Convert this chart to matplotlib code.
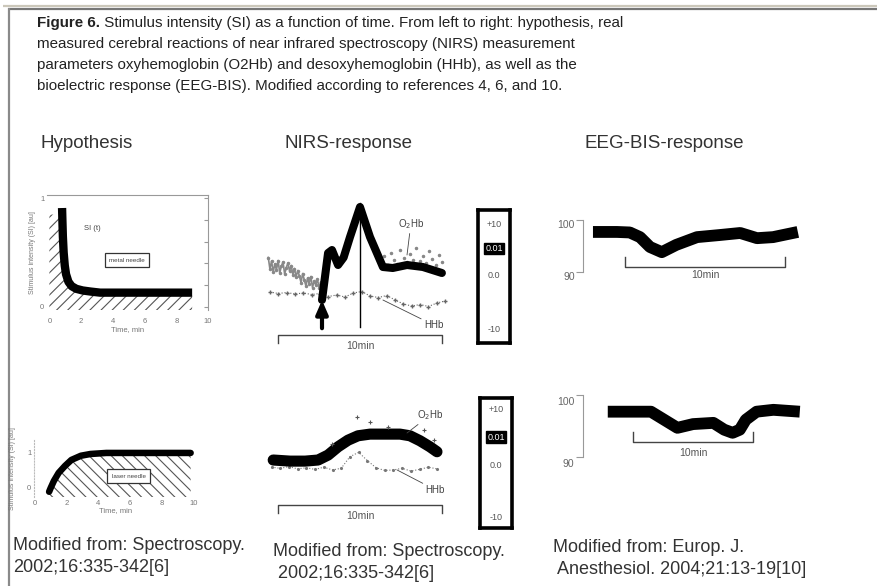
import numpy as np
import matplotlib.pyplot as plt
from matplotlib.transforms import ScaledTranslation

W, H = 877, 586

# ---- data ----
caption_bold = 'Figure 6.'
caption_lines = [
    ' Stimulus intensity (SI) as a function of time. From left to right: hypothesis, real',
    'measured cerebral reactions of near infrared spectroscopy (NIRS) measurement',
    'parameters oxyhemoglobin (O2Hb) and desoxyhemoglobin (HHb), as well as the',
    'bioelectric response (EEG-BIS). Modified according to references 4, 6, and 10.',
]
headers = ['Hypothesis', 'NIRS-response', 'EEG-BIS-response']
refs = [
    ['Modified from: Spectroscopy.', '2002;16:335-342[6]'],
    ['Modified from: Spectroscopy.', ' 2002;16:335-342[6]'],
    ['Modified from: Europ. J.', ' Anesthesiol. 2004;21:13-19[10]'],
]

# hypothesis, top row (SI drops after stimulus)
hyp_top_t = [0.8, 0.82, 0.85, 0.9, 0.97, 1.05, 1.2, 1.4, 1.7, 2.1, 2.6, 3.2, 5.0, 7.0, 9.0]
hyp_top_si = [0.91, 0.80, 0.65, 0.50, 0.38, 0.30, 0.23, 0.19, 0.165, 0.15, 0.14, 0.13, 0.13, 0.13, 0.13]
hatch_top_t = [0.0, 0.75] + hyp_top_t
hatch_top_si = [0.85, 0.85] + hyp_top_si
# hypothesis, bottom row (SI rises after stimulus)
hyp_bot_t = [0.9, 1.0, 1.2, 1.5, 1.9, 2.3, 2.9, 3.5, 4.5, 6.0, 8.0, 9.8]
hyp_bot_si = [-0.11, 0.0, 0.2, 0.43, 0.63, 0.8, 0.92, 0.97, 1.0, 1.0, 1.0, 1.0]
hyp_ticks = [0, 2, 4, 6, 8, 10]
hyp_labels = ['SI (t)', 'metal needle', 'laser needle']

# NIRS, top row
n1_pre_v = [3.5, 1.2, 2.8, 0.6, 2.2, 1.0, 2.9, 0.4, 1.8, 2.6, 0.2, 1.5, 2.4, 0.8, 1.9, 0.1, 1.3,
            -0.4, 0.9, -0.2, -1.5, 0.3, -1.0, -2.2, -0.6, -1.8, -0.3, -2.5, -1.2, -2.0, -0.8, -2.6, -1.4, -2.2]
n1_o2_t = [2.68, 3.05, 3.29, 3.66, 4.0, 4.39, 5.0, 5.61, 6.4, 7.0, 7.87, 8.84, 10.0]
n1_o2_v = [-5.0, 4.4, 5.0, 2.0, 3.5, 7.6, 13.6, 7.6, 1.6, 1.4, 2.0, 1.6, 0.4]
n1_post_v = [2.5, 3.8, 2.0, 4.5, 3.0, 2.2, 5.0, 3.4, 2.6, 4.2, 3.1, 5.5, 2.8, 3.9, 2.4, 4.8, 3.3, 2.1, 4.0, 2.7]
n1_hhb_v = [-3.4, -3.7, -3.5, -3.8, -3.6, -3.9, -3.7, -4.3, -4.0, -4.4, -3.6, -3.3, -4.2, -4.5, -4.1,
            -5.0, -5.8, -6.2, -5.9, -6.3, -5.6, -5.2]
n1_stim_t, n1_peak_t = 2.68, 5.0

# NIRS, bottom row
n2_o2_t = [-0.3, 0.73, 1.65, 2.44, 3.05, 3.66, 4.27, 4.88, 5.61, 6.52, 7.44, 8.05, 8.66, 9.27, 9.7]
n2_o2_v = [0.9, 0.7, 0.7, 0.9, 1.8, 3.3, 4.5, 5.3, 5.6, 5.6, 5.6, 5.3, 4.4, 3.3, 2.4]
n2_spike_t = [3.3, 4.8, 5.6, 6.7, 8.9, 9.5]
n2_spike_v = [3.8, 8.7, 7.8, 6.9, 6.4, 4.5]
n2_hhb_v = [-0.4, -0.6, -0.3, -0.7, -0.5, -0.8, -0.4, -0.9, -0.6, 1.5, 2.3, 0.8, -0.5, -1.0, -0.9,
            -0.6, -1.1, -0.8, -0.4, -0.7]

scale_labels = ['+10', '0.01', '0.0', '-10']

# EEG-BIS
bis1_t = [-2.0, -0.5, 0.3, 0.94, 1.56, 2.3, 3.2, 4.5, 5.9, 7.2, 8.25, 9.25, 10.8]
bis1_v = [97.7, 97.7, 97.6, 96.7, 94.8, 93.8, 95.2, 96.7, 97.1, 97.5, 96.5, 96.7, 97.7]
bis2_t = [-2.1, 1.5, 2.6, 3.7, 5.0, 6.7, 7.6, 8.3, 8.9, 9.4, 10.3, 11.7, 13.9]
bis2_v = [97.3, 97.3, 96.0, 94.7, 95.3, 95.5, 94.4, 93.9, 94.4, 96.0, 97.3, 97.6, 97.3]

# ---- drawing ----
plt.rcParams['font.family'] = ['Liberation Sans', 'DejaVu Sans']
plt.rcParams['hatch.linewidth'] = 0.8
fig = plt.figure(figsize=(W / 100, H / 100), dpi=100)


def px_axes(x0, y0, x1, y1):
    a = fig.add_axes([x0 / W, 1 - y1 / H, (x1 - x0) / W, (y1 - y0) / H])
    a.patch.set_alpha(0)
    return a


bg = fig.add_axes([0, 0, 1, 1])
bg.set_xlim(0, W)
bg.set_ylim(H, 0)
bg.axis('off')
bg.plot([3, W], [6, 6], color='#cbc7ba', lw=1.6, solid_capstyle='butt')
bg.plot([8, W], [8.6, 8.6], color='#767676', lw=1.6, solid_capstyle='butt')
bg.plot([8.6, 8.6], [8, H], color='#8a8a8a', lw=1.6, solid_capstyle='butt')

# caption
cap_fs = 10.9
t1 = bg.text(37, 23, caption_bold, fontsize=cap_fs, weight='bold', va='center', color='#222')
bg.annotate(caption_lines[0], xy=(1, 0.5), xycoords=t1, va='center', fontsize=cap_fs, color='#222')
for i, line in enumerate(caption_lines[1:]):
    bg.text(37, 44 + 21 * i, line, fontsize=cap_fs, va='center', color='#222')

for x, h in zip([40, 285, 585], headers):
    bg.text(x, 143, h, fontsize=13.5, va='center', color='#333')

for (x, y), lines in zip([(13, 545), (273, 551), (553, 548)], refs):
    bg.text(x, y, lines[0], fontsize=13, va='center', color='#333')
    bg.text(x, y + 22, lines[1], fontsize=13, va='center', color='#333')

grey = '#777777'

# hypothesis top
ax = px_axes(47, 195, 208, 310)
ax.fill_between(hatch_top_t, -0.03, hatch_top_si, facecolor='none', edgecolor='#555', hatch='///', lw=0)
ax.plot(hyp_top_t, hyp_top_si, color='black', lw=6, solid_capstyle='butt', solid_joinstyle='round')
ax.set_xlim(-0.15, 10)
ax.set_ylim(-0.03, 1.03)
ax.set_xticks(hyp_ticks)
ax.set_yticks([0, 0.2, 0.4, 0.6, 0.8, 1.0])
ax.set_yticklabels(['0', '', '', '', '', '1'])
ax.tick_params(axis='y', left=False, right=True, direction='in', length=3, color='#999',
               labelsize=5.5, labelcolor=grey, pad=2)
ax.tick_params(axis='x', bottom=False, labelsize=5.5, labelcolor=grey, pad=2)
for s in ['left', 'bottom']:
    ax.spines[s].set_visible(False)
for s in ['top', 'right']:
    ax.spines[s].set_color('#999')
    ax.spines[s].set_linewidth(0.8)
ax.set_xlabel('Time, min', fontsize=5.5, color=grey, labelpad=1)
ax.set_ylabel('Stimulus intensity (SI) [au]', fontsize=5, color=grey, labelpad=3)
ax.text(2.2, 0.72, hyp_labels[0], fontsize=5.5, color='#444', va='center')
ax.text(4.9, 0.43, hyp_labels[1], fontsize=4.5, color='#444', ha='center', va='center',
        bbox=dict(boxstyle='square,pad=0.7', fc='white', ec='#333', lw=0.9))

# hypothesis bottom
ax = px_axes(34, 440, 197, 497)
ax.fill_between(hyp_bot_t, -0.26, hyp_bot_si, facecolor='none', edgecolor='#555', hatch='\\\\\\', lw=0)
ax.plot(hyp_bot_t, hyp_bot_si, color='black', lw=4.7, solid_capstyle='round')
ax.set_xlim(-0.05, 10.2)
ax.set_ylim(-0.26, 1.37)
ax.set_xticks(hyp_ticks)
ax.set_yticks([0, 1])
ax.tick_params(labelsize=5.5, labelcolor=grey, length=0, pad=2)
for s in ['top', 'right', 'bottom']:
    ax.spines[s].set_visible(False)
ax.spines['left'].set_color('#bbb')
ax.spines['left'].set_linestyle(':')
ax.set_xlabel('Time, min', fontsize=5.5, color=grey, labelpad=0)
ax.set_ylabel('Stimulus intensity (SI) [au]', fontsize=5, color=grey, labelpad=8)
ax.text(5.9, 0.34, hyp_labels[2], fontsize=4.5, color='#444', ha='center', va='center',
        bbox=dict(boxstyle='square,pad=0.7', fc='white', ec='#333', lw=0.9))


def bracket(ax, y, drop, tx, ty, x0=0, x1=10):
    ax.plot([x0, x0, x1, x1], [y - drop, y, y, y - drop], color='#444', lw=1.0)
    ax.text((x0 + x1) / 2 + tx, ty, '10min', fontsize=7.5, color='#555', ha='center', va='center')


def scale_box(x0, y0, x1, y1, ys):
    b = px_axes(x0, y0, x1, y1)
    b.set_xticks([])
    b.set_yticks([])
    for s in b.spines.values():
        s.set_linewidth(2.6)
    for lab, yy in zip(scale_labels, ys):
        if lab == '0.01':
            b.text(0.5, yy, lab, transform=b.transAxes, fontsize=6.5, color='white', ha='center',
                   va='center', bbox=dict(boxstyle='square,pad=0.15', fc='black', ec='black'))
        else:
            b.text(0.5, yy, lab, transform=b.transAxes, fontsize=6.5, color='#555', ha='center', va='center')


# NIRS top
ax = px_axes(265, 195, 455, 360)
ax.axis('off')
ax.set_xlim(-0.8, 10.8)
ax.set_ylim(-17, 16)
ax.plot(np.linspace(-0.6, 2.7, len(n1_pre_v)), n1_pre_v, color='#888', lw=1.2, marker='.', ms=3)
ax.plot(np.linspace(6.3, 10.0, len(n1_post_v)), n1_post_v, color='#888', lw=0.8, marker='.', ms=3, ls='none')
ax.plot(np.linspace(-0.5, 10.2, len(n1_hhb_v)), n1_hhb_v, color='#666', lw=0.8, ls=':', marker='+', ms=3)
ax.plot(n1_o2_t, n1_o2_v, color='black', lw=5.8, solid_capstyle='round', solid_joinstyle='round')
ax.plot([n1_peak_t, n1_peak_t], [-10.4, 14.4], color='black', lw=1.0)
ax.annotate('', xy=(n1_stim_t, -4.5), xytext=(n1_stim_t, -11.2),
            arrowprops=dict(arrowstyle='-|>,head_width=0.35,head_length=0.8', lw=3, color='black'))
ax.annotate('O$_2$Hb', xy=(7.87, 4), xytext=(7.3, 9.6), fontsize=7, color='#444',
            arrowprops=dict(arrowstyle='-', lw=0.6, color='#444', shrinkA=0, shrinkB=0))
ax.annotate('HHb', xy=(6.4, -5), xytext=(8.9, -10), fontsize=7, color='#444', va='center',
            arrowprops=dict(arrowstyle='-', lw=0.6, color='#444', shrinkA=0, shrinkB=0))
bracket(ax, -12, 1.6, 0, -14.2)
scale_box(478, 210, 510, 343, [0.89, 0.71, 0.51, 0.10])

# NIRS bottom
ax = px_axes(265, 395, 455, 530)
ax.axis('off')
ax.set_xlim(-0.8, 10.8)
ax.set_ylim(-11.8, 12.7)
ax.plot(np.linspace(-0.4, 9.7, len(n2_hhb_v)), n2_hhb_v, color='#777', lw=0.8, ls=':', marker='.', ms=2.5)
ax.plot(n2_o2_t, n2_o2_v, color='black', lw=8, solid_capstyle='round', solid_joinstyle='round')
ax.plot(n2_spike_t, n2_spike_v, color='#555', ls='none', marker='+', ms=3, mew=0.8)
ax.annotate('O$_2$Hb', xy=(7.87, 5.8), xytext=(8.5, 9.1), fontsize=7, color='#444', va='center',
            arrowprops=dict(arrowstyle='-', lw=0.6, color='#444', shrinkA=0, shrinkB=0))
ax.annotate('HHb', xy=(7.26, -0.9), xytext=(9.0, -4.5), fontsize=7, color='#444', va='center',
            arrowprops=dict(arrowstyle='-', lw=0.6, color='#444', shrinkA=0, shrinkB=0))
bracket(ax, -7.3, 1.5, 0, -9.3)
scale_box(480, 398, 512, 528, [0.91, 0.70, 0.48, 0.08])


def bis_axes(rect, t, v, spine_x, xlim, ylim, br_y, br_drop, br_text, label_shift):
    ax = px_axes(*rect)
    ax.plot(t, v, color='black', lw=8.5, solid_capstyle='butt', solid_joinstyle='round')
    ax.set_xlim(*xlim)
    ax.set_ylim(*ylim)
    for s in ['top', 'right', 'bottom']:
        ax.spines[s].set_visible(False)
    ax.spines['left'].set_position(('data', spine_x))
    ax.spines['left'].set_bounds(90, 100)
    ax.spines['left'].set_color('#999')
    ax.spines['left'].set_linewidth(0.8)
    ax.set_xticks([])
    ax.set_yticks([90, 100])
    ax.tick_params(axis='y', length=5, color='#999', labelsize=7.5, labelcolor='#666', pad=1)
    shift = ScaledTranslation(0, -label_shift / 100, fig.dpi_scale_trans)
    for lab in ax.get_yticklabels():
        lab.set_transform(lab.get_transform() + shift)
    bracket(ax, br_y, br_drop, 0, br_text)
    return ax


bis_axes((560, 205, 810, 290), bis1_t, bis1_v, -2.6, (-4.06, 11.56), (86.5, 102.9), 91, -1.8, 89.3, 4)
bis_axes((560, 385, 810, 475), bis2_t, bis2_v, -4.17, (-6.08, 14.75), (87.1, 101.6), 92.4, -1.6, 90.6, 6)

fig.savefig('out.png', dpi=100)
